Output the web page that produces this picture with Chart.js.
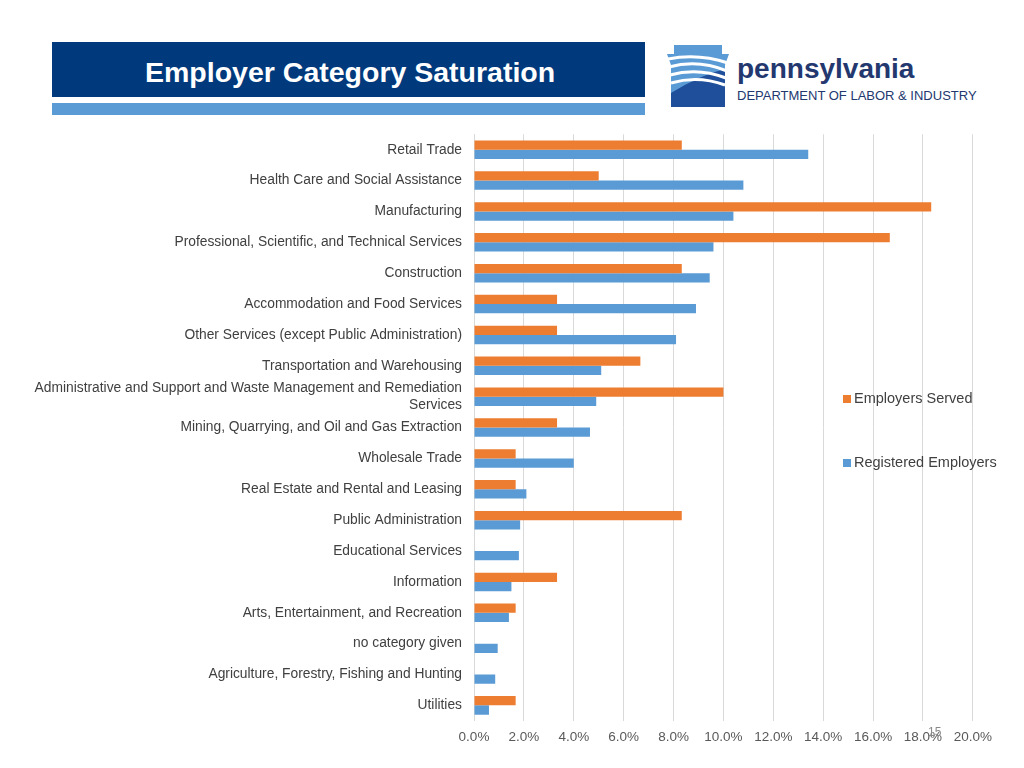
<!DOCTYPE html>
<html><head><meta charset="utf-8">
<script src="https://cdn.jsdelivr.net/npm/chart.js@4"></script>
<style>
body{margin:0;width:1024px;height:768px;background:#fff;position:relative;overflow:hidden;font-family:"Liberation Sans",Arial,sans-serif}
#hdr{position:absolute;left:52px;top:42px;width:593px;height:55px;background:#003a7d;color:#fff;font-weight:bold;font-size:28.5px;line-height:61px;padding-left:93px;box-sizing:border-box}
#stripe{position:absolute;left:52px;top:103px;width:593px;height:12px;background:#5b9bd5}
#logo{position:absolute;left:665px;top:45px}
#pa{position:absolute;left:737px;top:53px;color:#23386f;font-weight:bold;font-size:28px}
#dept{position:absolute;left:737px;top:88px;color:#23386f;font-size:13px}
#wrap{position:absolute;left:0;top:122px;width:1000px;height:631px}
.lg{position:absolute;font-size:14.5px;color:#404040}
.lg i{display:inline-block;width:8px;height:8px;margin-right:3px}
#pg{position:absolute;left:928px;top:725px;font-size:12px;color:#888}
</style></head><body>
<div id="hdr">Employer Category Saturation</div>
<div id="stripe"></div>
<svg id="logo" width="66" height="65" viewBox="0 0 66 65">
<path d="M9 0H57V9H64L60 20V62H6V20L2 9H9Z" fill="#5b9bd5"/>
<path d="M6 48Q35 30 60 24V62H6Z" fill="#1f4e9a"/>
<path d="M3 14Q33 8 63 18M4 22Q33 14 62 26M5 30Q33 22 61 33M6 38Q33 30 60 40" stroke="#fff" stroke-width="3" fill="none"/>
</svg>
<div id="pa">pennsylvania</div>
<div id="dept">DEPARTMENT OF LABOR &amp; INDUSTRY</div>
<div id="wrap"><canvas id="c"></canvas></div>
<div class="lg" style="left:843px;top:390px"><i style="background:#ed7d31"></i>Employers Served</div>
<div class="lg" style="left:843px;top:454px"><i style="background:#5b9bd5"></i>Registered Employers</div>
<div id="pg">15</div>
<script>
const categories = ["Retail Trade","Health Care and Social Assistance","Manufacturing","Professional, Scientific, and Technical Services","Construction","Accommodation and Food Services","Other Services (except Public Administration)","Transportation and Warehousing",["Administrative and Support and Waste Management and Remediation","Services"],"Mining, Quarrying, and Oil and Gas Extraction","Wholesale Trade","Real Estate and Rental and Leasing","Public Administration","Educational Services","Information","Arts, Entertainment, and Recreation","no category given","Agriculture, Forestry, Fishing and Hunting","Utilities"];
const employersServed = [8.33,5.0,18.33,16.67,8.33,3.33,3.33,6.67,10.0,3.33,1.67,1.67,8.33,0,3.33,1.67,0,0,1.67];
const registeredEmployers = [13.4,10.8,10.4,9.6,9.45,8.9,8.1,5.1,4.9,4.65,4.0,2.1,1.85,1.8,1.5,1.4,0.95,0.85,0.6];

new Chart(document.getElementById('c'), {
  type: 'bar',
  data: {
    labels: categories,
    datasets: [
      {label:'Employers Served', data: employersServed, backgroundColor:'#ed7d31', categoryPercentage:0.6, barPercentage:1},
      {label:'Registered Employers', data: registeredEmployers, backgroundColor:'#5b9bd5', categoryPercentage:0.6, barPercentage:1}
    ]
  },
  options: {
    indexAxis: 'y', responsive: true, maintainAspectRatio: false, animation: false,
    layout: {padding: {top: 0, right: 20, bottom: 0}},
    plugins: {legend: {display: false}, tooltip: {enabled: false}},
    scales: {
      x: {min: 0, max: 20, border: {display: false},
          ticks: {stepSize: 2, color: '#595959', font: {size: 13.5, family: 'Liberation Sans'}, padding: 8, callback: v => v.toFixed(1) + '%'},
          grid: {color: '#d9d9d9', drawTicks: false}},
      y: {grid: {display: false}, border: {color: '#d9d9d9'},
          ticks: {color: '#404040', font: {size: 13.8, family: 'Liberation Sans'}, padding: 4, autoSkip: false},
          afterFit: s => { s.width = 474; }}
    }
  }
});
</script>
</body></html>
